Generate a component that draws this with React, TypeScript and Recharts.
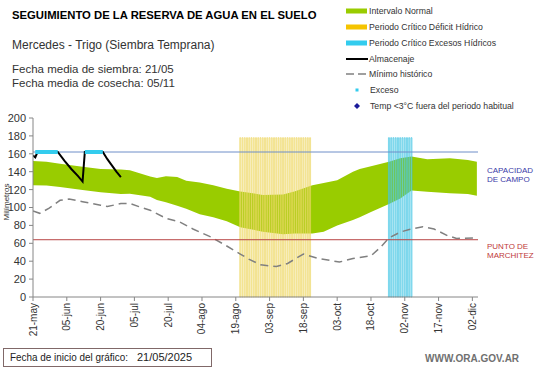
import React from "react";
import {
  ComposedChart,
  Area,
  Line,
  Bar,
  Cell,
  XAxis,
  YAxis,
  ReferenceLine,
} from "recharts";

// day 0 = 21/05
const tickDays = [0, 15, 30, 45, 60, 75, 90, 105, 120, 135, 150, 165, 180, 195];
const tickLabels = [
  "21-may", "05-jun", "20-jun", "05-jul", "20-jul", "04-ago", "19-ago",
  "03-sep", "18-sep", "03-oct", "18-oct", "02-nov", "17-nov", "02-dic",
];
const yTicks = [0, 20, 40, 60, 80, 100, 120, 140, 160, 180, 200];

// Intervalo normal (banda verde)
const normalDays = [0, 6, 12, 22, 30, 39, 43, 52, 55, 59, 64, 68, 74, 80, 86, 92, 96, 102, 111, 116, 124, 129, 135, 142, 145, 150, 158, 163, 168, 175, 185, 193, 197];
const normalUpper = [152, 151, 149, 145.5, 143, 142.5, 141.5, 134.5, 133, 135, 134, 130, 128, 125, 121, 118, 116.5, 114, 114.5, 118, 125, 127.5, 130.5, 140, 143, 146, 151, 155, 157, 154, 155, 153, 151];
const normalLower = [125, 124.5, 123, 119.5, 117, 115, 115.5, 112, 108.5, 106, 102, 98.5, 92.5, 89, 84.5, 78, 76, 73, 70, 71, 71, 73, 80, 86, 89, 95, 104, 110, 119, 117.5, 116, 115, 113];

// Mínimo histórico
const minDays = [0, 3, 7, 12, 16, 22, 30, 33, 39, 43, 47, 52, 59, 65, 71, 79, 86, 92, 96, 101, 108, 113, 120, 126, 136, 142, 150, 154, 158, 163, 167, 173, 178, 184, 188, 197];
const minValues = [96, 93.5, 99, 108, 109.5, 106.5, 102.5, 101, 104.5, 104.5, 101, 97, 88, 84, 76, 67, 57, 48, 42, 36, 34, 37.5, 48, 43.5, 39, 43, 46, 55, 66, 72.5, 75.5, 78.5, 76, 68.5, 65.5, 66];

// Almacenaje
const storageDays = [0, 1, 2, 11, 14, 17, 20, 22, 23, 31, 33, 35, 37, 39];
const storageValues = [158, 156, 162, 162, 152, 143, 135, 129, 162, 162, 154, 147, 140, 134];

// Exceso
const excessDays = [1, 2, 3, 4, 5, 6, 7, 8, 9, 10, 11, 23, 24, 25, 26, 27, 28, 29, 30, 31];
const excessLevel = 162;

// Periodos críticos
const deficitPeriodDays = [92, 93, 94, 95, 96, 97, 98, 99, 100, 101, 102, 103, 104, 105, 106, 107, 108, 109, 110, 111, 112, 113, 114, 115, 116, 117, 118, 119, 120, 121, 122, 123];
const excessPeriodDays = [158, 159, 160, 161, 162, 163, 164, 165, 166, 167, 168];
const periodTop = 178;

const fieldCapacity = 162;
const wiltingPoint = 64;

const FONT = "'Liberation Sans', Arial, sans-serif";

const normalData = normalDays.map((day, i) => ({ day, lo: normalLower[i], hi: normalUpper[i] }));
const minData = minDays.map((day, i) => ({ day, v: minValues[i] }));
const storageData = storageDays.map((day, i) => ({ day, v: storageValues[i] }));
const excessData: { day: number; v: number | null }[] = [];
excessDays.forEach((day, i) => {
  if (i > 0 && day - excessDays[i - 1] > 1) excessData.push({ day: day - 0.5, v: null });
  excessData.push({ day, v: excessLevel });
});
const periodData = [
  ...deficitPeriodDays.map((day) => ({ day, h: periodTop, kind: "deficit" })),
  ...excessPeriodDays.map((day) => ({ day, h: periodTop, kind: "excess" })),
];

const XTick = (props: any) => {
  const { x, y, payload } = props;
  const idx = tickDays.indexOf(payload.value);
  return (
    <text
      x={x}
      y={y}
      transform={`rotate(-90 ${x} ${y})`}
      textAnchor="end"
      dy="0.35em"
      fontSize={10}
      fontFamily={FONT}
      fill="#333"
    >
      {tickLabels[idx]}
    </text>
  );
};

const legendRows = [
  { y: 11, kind: "rect", color: "#99cc00", label: "Intervalo Normal" },
  { y: 27, kind: "rect", color: "#f5c400", label: "Periodo Crítico Déficit Hídrico" },
  { y: 43, kind: "rect", color: "#33ccee", label: "Periodo Crítico Excesos Hídricos" },
  { y: 59, kind: "line", color: "#000", label: "Almacenaje" },
  { y: 74, kind: "dash", color: "#808080", label: "Mínimo histórico" },
  { y: 90, kind: "square", color: "#33ccee", label: "Exceso" },
  { y: 106, kind: "diamond", color: "#1a1a9a", label: "Temp <3°C fuera del periodo habitual" },
];

const Overlay = () => (
  <svg
    width={541}
    height={368}
    style={{ position: "absolute", left: 0, top: 0, pointerEvents: "none" }}
    fontFamily={FONT}
  >
    <text x={12} y={19} fontSize={11.3} fontWeight="bold" fill="#000">
      SEGUIMIENTO DE LA RESERVA DE AGUA  EN EL SUELO
    </text>
    <text x={12} y={49} fontSize={12} fill="#333">
      Mercedes - Trigo (Siembra Temprana)
    </text>
    <text x={12} y={73} fontSize={11.5} fill="#333">
      Fecha media de siembra: 21/05
    </text>
    <text x={12} y={86.5} fontSize={11.5} fill="#333">
      Fecha media de cosecha: 05/11
    </text>

    {legendRows.map((r) => (
      <g key={r.label}>
        {r.kind === "rect" && <rect x={346} y={r.y - 2.5} width={21} height={5} fill={r.color} />}
        {r.kind === "line" && <line x1={346} x2={368} y1={r.y} y2={r.y} stroke={r.color} strokeWidth={2} />}
        {r.kind === "dash" && (
          <line x1={346} x2={368} y1={r.y} y2={r.y} stroke={r.color} strokeWidth={1.5} strokeDasharray="8 4" />
        )}
        {r.kind === "square" && <rect x={355.5} y={r.y - 1.5} width={3} height={3} fill={r.color} />}
        {r.kind === "diamond" && (
          <polygon
            points={`357,${r.y - 3} 360,${r.y} 357,${r.y + 3} 354,${r.y}`}
            fill={r.color}
          />
        )}
        <text x={r.kind === "square" || r.kind === "diamond" ? 370 : 369} y={r.y + 3} fontSize={8.7} fill="#333">
          {r.label}
        </text>
      </g>
    ))}

    <text x={487} y={173} fontSize={8} fill="#3b3ba8">CAPACIDAD</text>
    <text x={487} y={182} fontSize={8} fill="#3b3ba8">DE  CAMPO</text>
    <text x={487} y={249} fontSize={8} fill="#c03a3a">PUNTO  DE</text>
    <text x={487} y={258} fontSize={8} fill="#c03a3a">MARCHITEZ</text>

    <text
      x={9}
      y={202}
      transform="rotate(-90 9 202)"
      textAnchor="middle"
      fontSize={8}
      fill="#333"
    >
      Milímetros
    </text>

    <rect x={3.5} y={348.5} width={208} height={18} fill="none" stroke="#806868" strokeWidth={1} />
    <text x={10} y={361} fontSize={11} fill="#222" textLength={118} lengthAdjust="spacingAndGlyphs">
      Fecha de inicio del gráfico:
    </text>
    <text x={137} y={361} fontSize={11} fill="#222" textLength={55} lengthAdjust="spacingAndGlyphs">
      21/05/2025
    </text>
    <text x={425} y={362} fontSize={10} fontWeight="bold" fill="#707070">
      WWW.ORA.GOV.AR
    </text>
  </svg>
);

const App: React.FC = () => {
  return (
    <div
      style={{
        position: "absolute",
        left: 0,
        top: 0,
        width: 541,
        height: 368,
        background: "#fff",
        fontFamily: FONT,
      }}
    >
      <ComposedChart
        width={541}
        height={368}
        data={periodData}
        margin={{ top: 118, right: 63, bottom: 21, left: 0 }}
      >
        <XAxis
          dataKey="day"
          type="number"
          domain={[0, 197.5]}
          ticks={tickDays}
          interval={0}
          tick={<XTick />}
          tickSize={4}
          tickMargin={2}
          height={50}
          stroke="#868686"
          allowDataOverflow
        />
        <YAxis
          type="number"
          domain={[0, 200]}
          ticks={yTicks}
          interval={0}
          width={33}
          tickSize={4}
          tickMargin={3}
          stroke="#868686"
          tick={{ fontSize: 11, fill: "#333", fontFamily: FONT }}
        />
        <Area
          data={normalData}
          dataKey={(d: any) => [d.lo, d.hi]}
          type="linear"
          stroke="none"
          fill="#99cc00"
          fillOpacity={1}
          isAnimationActive={false}
        />
        <Line
          data={minData}
          dataKey="v"
          type="linear"
          stroke="#808080"
          strokeWidth={1.5}
          strokeDasharray="8 5"
          dot={false}
          isAnimationActive={false}
        />
        <Bar dataKey="h" barSize={2} isAnimationActive={false} fillOpacity={0.55}>
          {periodData.map((d) => (
            <Cell
              key={d.day}
              fill={d.kind === "deficit" ? "#f8ec9c" : "#a8e6f4"}
              stroke={d.kind === "deficit" ? "#ecd35a" : "#30bfe0"}
              strokeWidth={0.6}
            />
          ))}
        </Bar>
        <ReferenceLine y={fieldCapacity} stroke="#6f8ec8" strokeWidth={1} />
        <ReferenceLine y={wiltingPoint} stroke="#b84444" strokeWidth={1} />
        <Line
          data={storageData}
          dataKey="v"
          type="linear"
          stroke="#000"
          strokeWidth={2}
          dot={false}
          isAnimationActive={false}
        />
        <Line
          data={excessData}
          dataKey="v"
          type="linear"
          stroke="#33ccee"
          strokeWidth={4}
          dot={false}
          connectNulls={false}
          isAnimationActive={false}
        />
      </ComposedChart>
      <Overlay />
    </div>
  );
};

export default App;
